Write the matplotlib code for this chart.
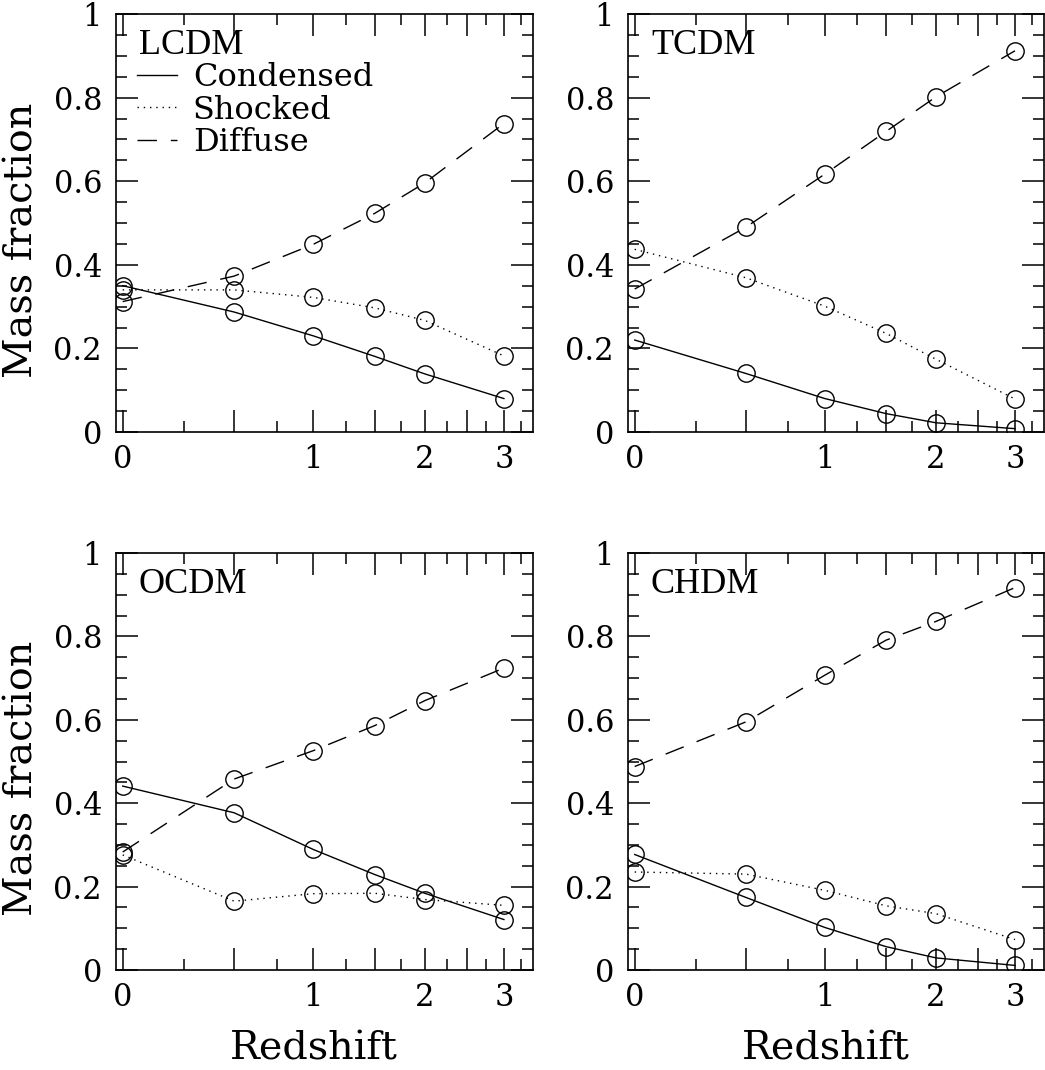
import numpy as np
import matplotlib
matplotlib.use("Agg")
import matplotlib.pyplot as plt
from matplotlib.ticker import FixedLocator, FixedFormatter
from matplotlib.lines import Line2D

# Redshift outputs
redshift = [0.0, 0.5, 1.0, 1.5, 2.0, 3.0]

# Mass fractions per model: condensed, shocked, diffuse
models = ["LCDM", "TCDM", "OCDM", "CHDM"]
lcdm_condensed = [0.350, 0.287, 0.230, 0.181, 0.139, 0.080]
lcdm_shocked   = [0.340, 0.340, 0.322, 0.297, 0.267, 0.182]
lcdm_diffuse   = [0.312, 0.373, 0.449, 0.523, 0.596, 0.738]

tcdm_condensed = [0.220, 0.140, 0.080, 0.044, 0.022, 0.008]
tcdm_shocked   = [0.437, 0.369, 0.301, 0.236, 0.174, 0.079]
tcdm_diffuse   = [0.342, 0.490, 0.617, 0.719, 0.802, 0.912]

ocdm_condensed = [0.441, 0.377, 0.289, 0.229, 0.184, 0.121]
ocdm_shocked   = [0.276, 0.165, 0.183, 0.184, 0.169, 0.155]
ocdm_diffuse   = [0.283, 0.458, 0.526, 0.586, 0.646, 0.724]

chdm_condensed = [0.277, 0.174, 0.102, 0.056, 0.029, 0.011]
chdm_shocked   = [0.235, 0.230, 0.191, 0.154, 0.135, 0.073]
chdm_diffuse   = [0.488, 0.595, 0.707, 0.791, 0.836, 0.917]

components = ["Condensed", "Shocked", "Diffuse"]

data = {
    "LCDM": (lcdm_condensed, lcdm_shocked, lcdm_diffuse),
    "TCDM": (tcdm_condensed, tcdm_shocked, tcdm_diffuse),
    "OCDM": (ocdm_condensed, ocdm_shocked, ocdm_diffuse),
    "CHDM": (chdm_condensed, chdm_shocked, chdm_diffuse),
}

x_major = [0, 0.5, 1, 1.5, 2, 2.5, 3]
x_minor = [0.25, 0.75, 1.25, 1.75, 2.25, 2.75, 3.25]
x_labels = ["0", "", "1", "", "2", "", "3"]
y_major = [0, 0.2, 0.4, 0.6, 0.8, 1.0]
y_labels = ["0", "0.2", "0.4", "0.6", "0.8", "1"]

styles = {
    "Condensed": dict(linestyle="-"),
    "Shocked": dict(linestyle=(0, (1.0, 3.5))),
    "Diffuse": dict(linestyle=(0, (14, 10))),
}

SERIF = "DejaVu Serif"
LABEL_FONT = "Liberation Serif"

W, H = 1045, 1070
fig = plt.figure(figsize=(W / 100, H / 100), dpi=100)

# axes boxes in pixels: (left, top, right, bottom)
boxes = {
    "LCDM": (116, 14, 533, 432),
    "TCDM": (628, 14, 1044, 432),
    "OCDM": (116, 553, 533, 970),
    "CHDM": (628, 553, 1044, 970),
}

fwd = lambda z: np.log10(1.0 + np.asarray(z))
inv = lambda u: 10.0 ** np.asarray(u) - 1.0

for name in models:
    l, t, r, b = boxes[name]
    ax = fig.add_axes([l / W, 1 - b / H, (r - l) / W, (b - t) / H])
    ax.set_xscale("function", functions=(fwd, inv))
    ax.set_xlim(10 ** -0.0106 - 1, 10 ** 0.648 - 1)
    ax.set_ylim(0, 1)

    for comp, vals in zip(components, data[name]):
        ax.plot(redshift, vals, color="black", lw=1.0, label=comp, **styles[comp])
        ax.plot(redshift, vals, linestyle="none", marker="o", ms=12.5,
                mfc="none", mec="black", mew=1.0)

    ax.xaxis.set_major_locator(FixedLocator(x_major))
    ax.xaxis.set_major_formatter(FixedFormatter(x_labels))
    ax.xaxis.set_minor_locator(FixedLocator(x_minor))
    ax.yaxis.set_major_locator(FixedLocator(y_major))
    ax.yaxis.set_major_formatter(FixedFormatter(y_labels))
    ax.yaxis.set_minor_locator(FixedLocator(np.arange(0, 1.0001, 0.05)))

    ax.tick_params(which="both", direction="in", top=True, right=True,
                   width=1.1, color="black")
    ax.tick_params(which="major", length=16)
    ax.tick_params(which="minor", length=8)
    ax.tick_params(axis="x", which="major", pad=9, labelsize=22)
    ax.tick_params(axis="y", which="major", pad=10, labelsize=22)
    for lab in ax.get_xticklabels() + ax.get_yticklabels():
        lab.set_family(SERIF)
    for sp in ax.spines.values():
        sp.set_linewidth(1.2)

    ax.text(0.055, 0.905, name, transform=ax.transAxes, family=LABEL_FONT,
            fontsize=26, va="baseline", ha="left")

    if name in ("LCDM", "OCDM"):
        ax.set_ylabel("Mass fraction", family=SERIF, fontsize=28.5)
        ax.yaxis.set_label_coords(-0.182, 0.459)
    if name in ("OCDM", "CHDM"):
        ax.set_xlabel("Redshift", family=SERIF, fontsize=28.5)
        ax.xaxis.set_label_coords(0.475, -0.145)

    if name == "LCDM":
        handles = [Line2D([], [], color="black", lw=1.0, **styles[c]) for c in components]
        ax.legend(handles, components, loc="upper left",
                  bbox_to_anchor=(0.05, 0.885), frameon=False,
                  prop={"family": SERIF, "size": 23},
                  handlelength=1.25, handletextpad=0.5, labelspacing=0.05,
                  borderpad=0.0, borderaxespad=0.0)

fig.savefig("out.png", dpi=100)
